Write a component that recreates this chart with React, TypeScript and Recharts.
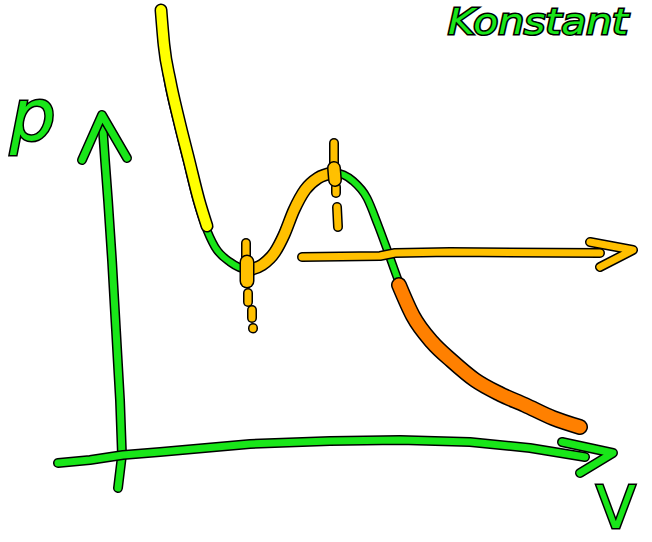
import { ComposedChart, Line, XAxis, YAxis } from "recharts";

// Van-der-Waals isotherm sketch: V on the x axis, p on the y axis.
// Every stroke is drawn twice: a black outline and the coloured line on top.

type Pt = [number, number];

const GREEN = "#19e619";
const YELLOW = "#ffff00";
const AMBER = "#ffc000";
const ORANGE = "#ff8000";

// the isotherm itself
const isotherm: Pt[] = [
  [0.42, 4.2], [0.48, 3.8], [0.57, 3.4], [0.67, 3.0], [0.77, 2.6], [0.85, 2.35],
  [0.95, 2.13], [1.1, 1.98], [1.26, 1.91], [1.42, 1.97], [1.56, 2.12], [1.68, 2.38],
  [1.8, 2.62], [1.95, 2.79], [2.15, 2.87], [2.33, 2.79], [2.47, 2.62], [2.58, 2.35],
  [2.68, 2.08], [2.77, 1.83], [2.88, 1.55], [3.05, 1.27], [3.27, 1.03], [3.55, 0.81],
  [3.9, 0.62], [4.25, 0.46],
];

// highlighted branches
const liquidBranch: Pt[] = [
  [0.41, 4.5], [0.44, 4.15], [0.5, 3.8], [0.59, 3.4], [0.69, 3.0], [0.79, 2.6], [0.87, 2.34],
];
const unstableBranch: Pt[] = [
  [1.28, 1.9], [1.42, 1.95], [1.55, 2.08], [1.64, 2.25], [1.74, 2.5], [1.85, 2.7],
  [1.98, 2.82], [2.13, 2.87],
];
const gasBranch: Pt[] = [
  [2.79, 1.75], [2.93, 1.44], [3.12, 1.18], [3.32, 0.99], [3.55, 0.8], [3.8, 0.66],
  [4.05, 0.55], [4.33, 0.42], [4.6, 0.33],
];

// horizontal arrow
const pressureLine: Pt[] = [[1.82, 2.03], [2.6, 2.04], [2.75, 2.07], [3.3, 2.08], [4.8, 2.07]];
const pressureHead: Pt[] = [[4.7, 2.18], [5.13, 2.1], [4.8, 1.93]];

// dashed markers at the minimum and the maximum
const minMarks: Pt[][] = [
  [[1.26, 2.17], [1.26, 2.03]],
  [[1.28, 1.67], [1.28, 1.58]],
  [[1.32, 1.5], [1.32, 1.42]],
  [[1.33, 1.32], [1.33, 1.315]],
];
const minBlob: Pt[] = [[1.27, 1.98], [1.27, 1.79]];
const maxMarks: Pt[][] = [
  [[2.14, 3.17], [2.14, 2.94]],
  [[2.16, 2.73], [2.16, 2.67]],
  [[2.17, 2.53], [2.18, 2.33]],
];
const maxBlob: Pt[] = [[2.14, 2.92], [2.15, 2.8]];

// axes
const pAxis: Pt[] = [
  [-0.02, -0.28], [0.02, 0.05], [0.0, 0.6], [-0.04, 1.3], [-0.08, 2.0], [-0.12, 2.6],
  [-0.15, 3.0], [-0.18, 3.43],
];
const pHead: Pt[] = [[-0.38, 3.0], [-0.18, 3.45], [0.07, 3.02]];
const vAxis: Pt[] = [
  [-0.62, -0.03], [-0.3, 0.0], [0.03, 0.05], [0.4, 0.08], [1.3, 0.16], [2.1, 0.19],
  [2.8, 0.2], [3.5, 0.18], [4.1, 0.12], [4.65, 0.03],
];
const vHead: Pt[] = [[4.42, 0.18], [4.93, 0.07], [4.6, -0.13]];

interface Stroke {
  pts: Pt[];
  color: string;
  width: number;
  curve?: "monotone" | "linear";
}

const strokes: Stroke[] = [
  { pts: isotherm, color: GREEN, width: 6, curve: "monotone" },
  { pts: liquidBranch, color: YELLOW, width: 10, curve: "monotone" },
  { pts: unstableBranch, color: AMBER, width: 10, curve: "monotone" },
  { pts: gasBranch, color: ORANGE, width: 13, curve: "monotone" },
  { pts: pressureLine, color: AMBER, width: 7 },
  { pts: pressureHead, color: AMBER, width: 7 },
  ...minMarks.map((pts) => ({ pts, color: AMBER, width: 7 })),
  { pts: minBlob, color: AMBER, width: 12 },
  ...maxMarks.map((pts) => ({ pts, color: AMBER, width: 7 })),
  { pts: maxBlob, color: AMBER, width: 11 },
  { pts: pAxis, color: GREEN, width: 7 },
  { pts: pHead, color: GREEN, width: 7 },
  { pts: vAxis, color: GREEN, width: 7 },
  { pts: vHead, color: GREEN, width: 7 },
];

const toRows = (pts: Pt[]) => pts.map(([v, p]) => ({ v, p }));

const labelStyle = {
  fill: GREEN,
  stroke: "#000",
  strokeWidth: 3,
  paintOrder: "stroke" as const,
  fontFamily: "DejaVu Sans",
};

export default function App() {
  const lines = strokes.flatMap((s, i) => {
    const data = toRows(s.pts);
    const common = {
      data,
      dataKey: "p",
      type: s.curve ?? "linear",
      dot: false,
      activeDot: false,
      isAnimationActive: false,
      strokeLinecap: "round",
      strokeLinejoin: "round",
    } as const;
    return [
      <Line key={`o${i}`} {...common} stroke="#000" strokeWidth={s.width + 3} />,
      <Line key={`c${i}`} {...common} stroke={s.color} strokeWidth={s.width} />,
    ];
  });

  return (
    <div style={{ position: "absolute", left: 0, top: 0, background: "#fff" }}>
      <ComposedChart width={652} height={542} margin={{ top: 0, right: 0, bottom: 0, left: 0 }}>
        <XAxis type="number" dataKey="v" domain={[-1.2, 5.32]} allowDataOverflow hide />
        <YAxis type="number" domain={[-0.82, 4.6]} allowDataOverflow hide />
        {lines}
        <text x={10} y={140} fontSize={72} fontStyle="italic" {...labelStyle}>p</text>
        <text x={596} y={528} fontSize={58} {...labelStyle}>V</text>
        <text x={448} y={34} fontSize={36} fontStyle="italic" textLength={180} lengthAdjust="spacingAndGlyphs" {...labelStyle}>Konstant</text>
      </ComposedChart>
    </div>
  );
}
